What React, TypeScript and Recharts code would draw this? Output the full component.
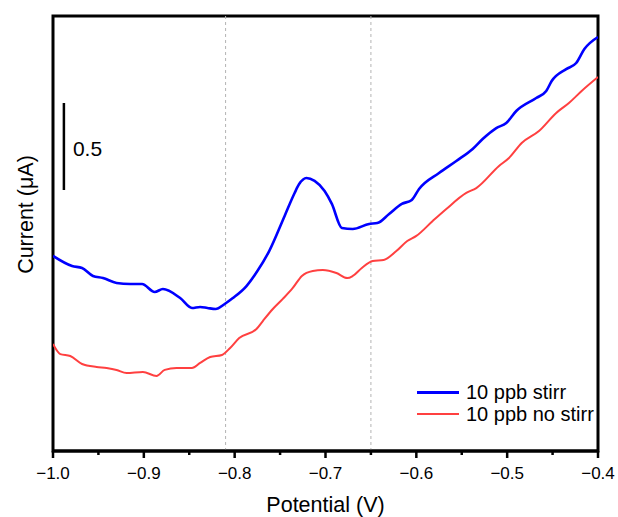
import React from 'react';
import { LineChart, Line, XAxis, YAxis, ReferenceLine, ReferenceArea } from 'recharts';

const FONT = '"Liberation Sans", Arial, sans-serif';

// potential (V) / current (uA, arbitrary offset)
const STIRR_X = [
  -1.0, -0.979, -0.968, -0.956, -0.945, -0.93, -0.915, -0.902, -0.888, -0.879,
  -0.86, -0.847, -0.838, -0.83, -0.821, -0.811, -0.802, -0.787, -0.775, -0.762,
  -0.745, -0.734, -0.729, -0.721, -0.712, -0.701, -0.693, -0.682, -0.67, -0.652,
  -0.643, -0.63, -0.616, -0.605, -0.597, -0.575, -0.556, -0.538, -0.527, -0.512,
  -0.501, -0.49, -0.468, -0.457, -0.451, -0.435, -0.424, -0.415, -0.4,
];
const STIRR_Y = [
  1.121, 1.063, 1.052, 1.006, 0.994, 0.966, 0.96, 0.96, 0.914, 0.931,
  0.879, 0.822, 0.828, 0.822, 0.816, 0.845, 0.879, 0.948, 1.034, 1.149,
  1.351, 1.483, 1.534, 1.569, 1.552, 1.494, 1.42, 1.282, 1.276, 1.305,
  1.31, 1.362, 1.42, 1.443, 1.506, 1.598, 1.667, 1.736, 1.793, 1.856,
  1.885, 1.954, 2.029, 2.069, 2.126, 2.195, 2.23, 2.31, 2.379,
];

const NOSTIRR_X = [
  -1.0, -0.992, -0.981, -0.968, -0.952, -0.941, -0.93, -0.919, -0.901, -0.886,
  -0.877, -0.864, -0.847, -0.838, -0.827, -0.814, -0.805, -0.795, -0.776, -0.769,
  -0.758, -0.747, -0.736, -0.726, -0.714, -0.703, -0.688, -0.676, -0.67, -0.66,
  -0.648, -0.636, -0.622, -0.61, -0.6, -0.582, -0.567, -0.545, -0.534, -0.509,
  -0.498, -0.484, -0.465, -0.446, -0.432, -0.418, -0.4,
];
const NOSTIRR_Y = [
  0.615, 0.557, 0.546, 0.5, 0.483, 0.477, 0.466, 0.448, 0.454, 0.431,
  0.466, 0.477, 0.477, 0.506, 0.54, 0.552, 0.592, 0.649, 0.701, 0.747,
  0.816, 0.874, 0.937, 1.006, 1.034, 1.04, 1.023, 0.994, 1.006, 1.052,
  1.092, 1.098, 1.149, 1.207, 1.236, 1.322, 1.391, 1.483, 1.511, 1.638,
  1.684, 1.77, 1.839, 1.943, 2.0, 2.069, 2.149,
];

const X_TICKS = [
  -1.0, -0.95, -0.9, -0.85, -0.8, -0.75, -0.7, -0.65, -0.6, -0.55, -0.5, -0.45, -0.4,
];
const MARKERS = [-0.81, -0.65];
const SCALE_BAR = { x: -0.988, from: 1.5, to: 2.0, label: '0.5' };

const stirr = STIRR_X.map((x, i) => ({ x, y: STIRR_Y[i] }));
const noStirr = NOSTIRR_X.map((x, i) => ({ x, y: NOSTIRR_Y[i] }));

const isMajor = (v: number) => Math.abs(Math.round(v * 10) - v * 10) < 1e-6;

const XTick = (props: any) => {
  const { x, y, payload } = props;
  const v = payload.value as number;
  const major = isMajor(v);
  return (
    <g>
      <line x1={x} x2={x} y1={y} y2={y + (major ? 7 : 4)} stroke="#000" strokeWidth={2.5} />
      {major && (
        <text
          x={x}
          y={y + 22}
          dy="0.36em"
          textAnchor="middle"
          fontSize={17}
          fontFamily={FONT}
          fill="#000"
        >
          {v.toFixed(1).replace('-', '\u2212')}
        </text>
      )}
    </g>
  );
};

const App = () => {
  return (
    <div style={{ position: 'absolute', left: 0, top: 0, width: 618, height: 517, background: '#fff' }}>
      <LineChart
        width={618}
        height={517}
        margin={{ top: 0, right: 0, left: 0, bottom: 0 }}
      >
        <XAxis
          dataKey="x"
          type="number"
          domain={[-1, -0.4]}
          ticks={X_TICKS}
          interval={0}
          height={66}
          tickSize={0}
          tickMargin={0}
          tickLine={false}
          axisLine={{ stroke: '#000', strokeWidth: 3 }}
          tick={<XTick />}
          allowDataOverflow
          label={({ viewBox }: any) => (
            <text
              x={viewBox.x + viewBox.width / 2}
              y={viewBox.y + 54}
              textAnchor="middle"
              dominantBaseline="central"
              fontSize={21.5}
              fontFamily={FONT}
              fill="#000"
            >
              Potential (V)
            </text>
          )}
        />
        <XAxis
          xAxisId="top"
          orientation="top"
          dataKey="x"
          type="number"
          domain={[-1, -0.4]}
          height={16}
          tick={false}
          tickLine={false}
          axisLine={false}
        />
        <YAxis
          type="number"
          domain={[0, 2.5]}
          width={53}
          tick={false}
          tickLine={false}
          axisLine={false}
          allowDataOverflow
          label={({ viewBox }: any) => {
            const cy = viewBox.y + viewBox.height / 2 - 19;
            return (
              <text
                x={26}
                y={cy}
                transform={`rotate(-90, 26, ${cy})`}
                textAnchor="middle"
                dominantBaseline="central"
                fontSize={21.5}
                fontFamily={FONT}
                fill="#000"
              >
                Current (μA)
              </text>
            );
          }}
        />
        <YAxis
          yAxisId="right"
          orientation="right"
          type="number"
          domain={[0, 2.5]}
          width={20}
          tick={false}
          tickLine={false}
          axisLine={false}
        />

        {MARKERS.map(m => (
          <ReferenceLine key={m} x={m} stroke="#b4b4b4" strokeWidth={1} strokeDasharray="3 3" />
        ))}

        <ReferenceLine
          segment={[{ x: SCALE_BAR.x, y: SCALE_BAR.from }, { x: SCALE_BAR.x, y: SCALE_BAR.to }]}
          stroke="#000"
          strokeWidth={2.5}
          label={({ viewBox }: any) => (
            <text
              x={viewBox.x + 9}
              y={viewBox.y + viewBox.height / 2 + 2}
              dominantBaseline="central"
              fontSize={21}
              fontFamily={FONT}
              fill="#000"
            >
              {SCALE_BAR.label}
            </text>
          )}
        />

        <Line
          data={noStirr}
          dataKey="y"
          type="monotone"
          stroke="#ff4040"
          strokeWidth={2}
          dot={false}
          isAnimationActive={false}
        />
        <Line
          data={stirr}
          dataKey="y"
          type="monotone"
          stroke="#0000ff"
          strokeWidth={2.6}
          dot={false}
          isAnimationActive={false}
        />

        <ReferenceArea
          x1={-1}
          x2={-0.4}
          y1={0}
          y2={2.5}
          fill="none"
          fillOpacity={0}
          stroke="#000"
          strokeWidth={3}
          ifOverflow="visible"
        />
      </LineChart>

      <div style={{ position: 'absolute', left: 417, top: 381, fontFamily: FONT, fontSize: 20, color: '#000' }}>
        <div style={{ display: 'flex', alignItems: 'center', height: 22 }}>
          <div style={{ width: 42, height: 3, background: '#0000ff', marginRight: 7 }} />
          <span>10 ppb stirr</span>
        </div>
        <div style={{ display: 'flex', alignItems: 'center', height: 22 }}>
          <div style={{ width: 42, height: 2, background: '#ff4040', marginRight: 7 }} />
          <span>10 ppb no stirr</span>
        </div>
      </div>
    </div>
  );
};

export default App;
